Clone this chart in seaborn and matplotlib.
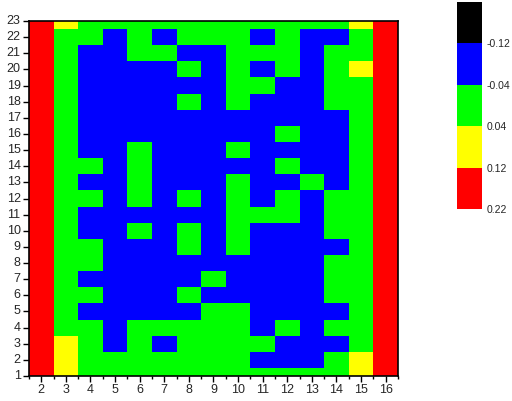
import numpy as np
import pandas as pd
import seaborn as sns
import matplotlib.pyplot as plt
from matplotlib.colors import ListedColormap, BoundaryNorm

sns.set_style("white")
plt.rcParams['font.family'] = ['Liberation Sans', 'DejaVu Sans']

# column / row labels
x_labels = list(range(2, 17))
y_labels = list(range(23, 0, -1))

# colour classes (R=red, Y=yellow, G=green, B=blue)
level = {"B": -0.08, "G": 0.0, "Y": 0.08, "R": 0.17}

# one string per row, top (23) to bottom (1), columns 2..16
rows = [
    "RYGGGGGGGGGGGYR",  # 23
    "RGGBGBGGGBGBBGR",  # 22
    "RGBBGGBBGGGBGGR",  # 21
    "RGBBBBGBGBGBGYR",  # 20
    "RGBBBBBBGGBBGGR",  # 19
    "RGBBBBGBGBBBGGR",  # 18
    "RGBBBBBBBBBBBGR",  # 17
    "RGBBBBBBBBGBBGR",  # 16
    "RGBBGBBBGBBBBGR",  # 15
    "RGGBGBBBBBGBBGR",  # 14
    "RGBBGBBBGBBGBGR",  # 13
    "RGGBGBGBGBGBGGR",  # 12
    "RGBBBBBBGGGBGGR",  # 11
    "RGBBGBGBGBBBGGR",  # 10
    "RGGBBBGBGBBBBGR",  # 9
    "RGGBBBBBBBBBGGR",  # 8
    "RGBBBBBGBBBBGGR",  # 7
    "RGGBBBGBBBBBGGR",  # 6
    "RGBBBBBGGBBBBGR",  # 5
    "RGGBGGGGGBGBGGR",  # 4
    "RYGBGBGGGGBBBGR",  # 3
    "RYGGGGGGGBBBGYR",  # 2
    "RYGGGGGGGGGGGYR",  # 1
]

bounds = [-0.2, -0.12, -0.04, 0.04, 0.12, 0.22]
cbar_ticks = [-0.12, -0.04, 0.04, 0.12, 0.22]
colors = ["#000000", "#0000FF", "#00FF00", "#FFFF00", "#FF0000"]

grid = pd.DataFrame([[level[c] for c in r] for r in rows],
                    index=y_labels, columns=x_labels)

cmap = ListedColormap(colors)
norm = BoundaryNorm(bounds, cmap.N)

fig = plt.figure(figsize=(5.12, 4.01), dpi=100)
ax = fig.add_axes([0.0566, 0.0623, 0.7207, 0.8853])
cax = fig.add_axes([0.8926, 0.479, 0.0488, 0.516])

sns.heatmap(grid, ax=ax, cbar_ax=cax, cmap=cmap, norm=norm,
            cbar_kws={"ticks": cbar_ticks})

# half rows at top and bottom like the original
ax.set_ylim(22.5, 0.5)
for s in ax.spines.values():
    s.set_visible(True)
    s.set_color("black")
    s.set_linewidth(1.2)

ax.set_xticks(np.arange(len(x_labels)) + 0.5)
ax.set_xticklabels(x_labels, rotation=0, fontsize=9)
ax.set_xticks(np.arange(0, len(x_labels) + 1), minor=True)
ax.set_yticks(np.arange(len(y_labels)) + 0.5)
ax.set_yticklabels(y_labels, rotation=0, fontsize=9)
ax.tick_params(axis="both", which="major", direction="out", length=4,
               width=1, color="black", left=True, bottom=True, pad=2)
ax.tick_params(axis="x", which="minor", direction="out", length=2.5,
               width=1, color="black", bottom=True)
ax.set_xlabel("")
ax.set_ylabel("")

cax.invert_yaxis()
cax.minorticks_off()
for s in cax.spines.values():
    s.set_visible(False)
cax.tick_params(length=0, labelsize=7.5, pad=3)
cax.set_yticklabels(["-0.12", "-0.04", "0.04", "0.12", "0.22"])

fig.savefig("out.png", dpi=100)
